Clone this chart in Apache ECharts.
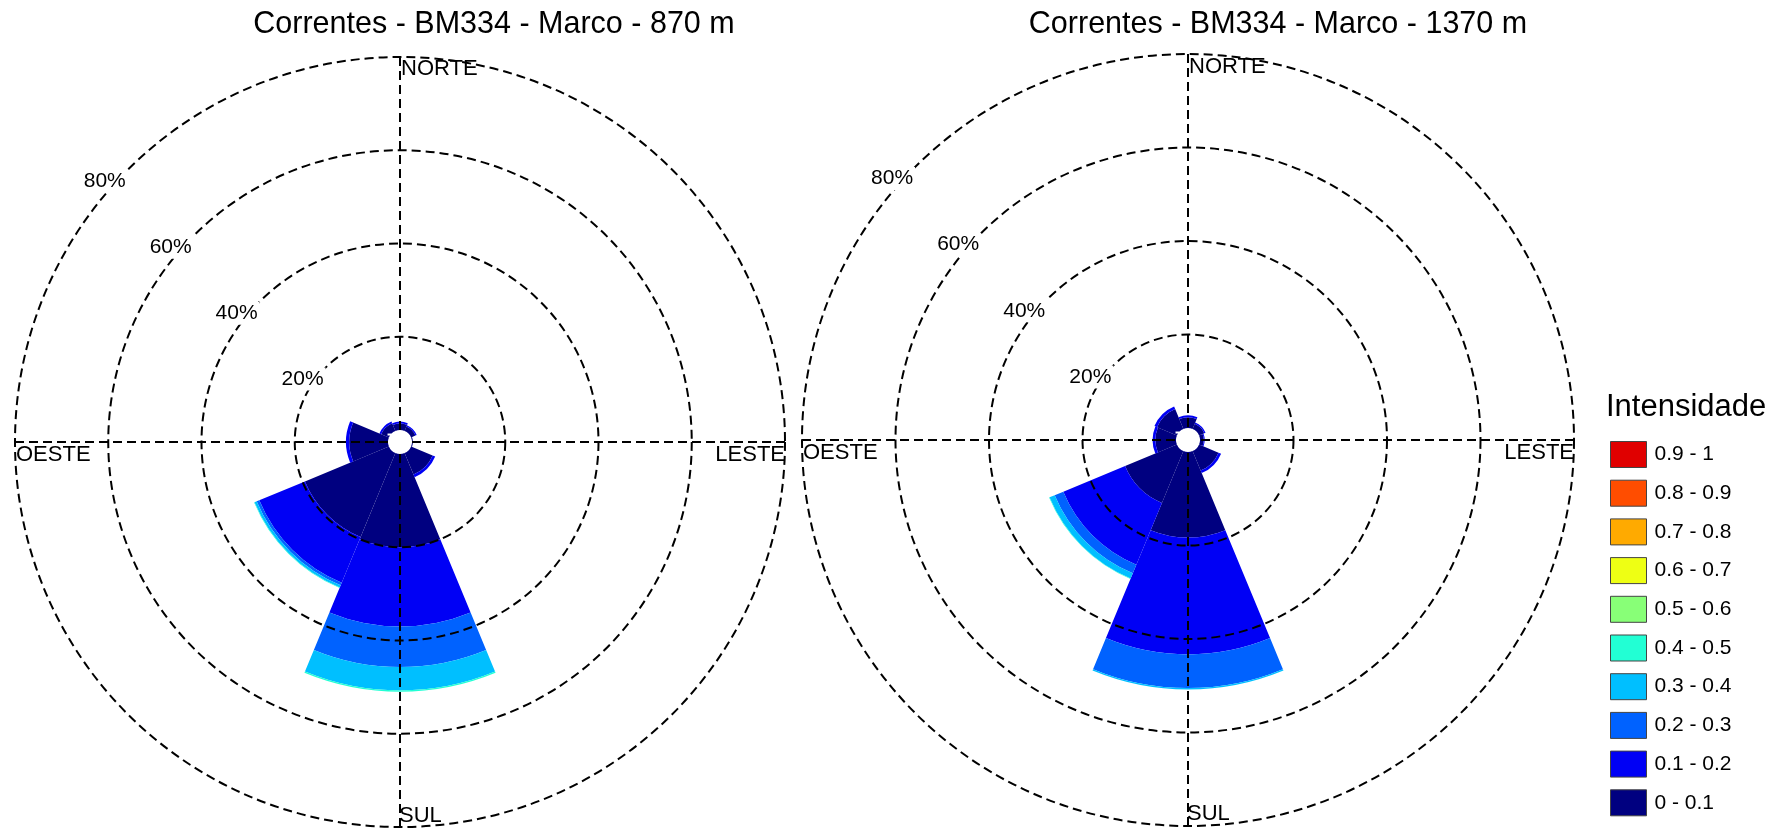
<!DOCTYPE html>
<html><head><meta charset="utf-8">
<script src="https://cdn.jsdelivr.net/npm/echarts@6/dist/echarts.min.js"></script>
<style>html,body{margin:0;padding:0;background:#fff}#c{width:1780px;height:830px}</style>
</head><body><div id="c"></div>
<script>
// ---------- data ----------
const directions = ['N', 'NE', 'E', 'SE', 'S', 'SW', 'W', 'NW'];
const classes = ['0 - 0.1', '0.1 - 0.2', '0.2 - 0.3', '0.3 - 0.4', '0.4 - 0.5',
                 '0.5 - 0.6', '0.6 - 0.7', '0.7 - 0.8', '0.8 - 0.9', '0.9 - 1'];
const radialTicks = [0, 20, 40, 60, 80];
const titles = ['Correntes - BM334 - Marco - 870 m', 'Correntes - BM334 - Marco - 1370 m'];
const compassLabels = ['NORTE', 'LESTE', 'SUL', 'OESTE'];
const legendTitle = 'Intensidade';

// 870 m : frequency (%) per direction, per intensity class
const d870_00_01 = [1.4, 1.0, 0.2, 5.0, 20.0, 19.5, 8.3, 1.8];
const d870_01_02 = [0.4, 0.3, 0.0, 0.6, 17.0, 10.6, 0.7, 0.4];
const d870_02_03 = [0, 0, 0, 0, 8.7, 0.6, 0, 0];
const d870_03_04 = [0, 0, 0, 0, 5.0, 0.5, 0, 0];
const d870_04_05 = [0, 0, 0, 0, 0.3, 0.1, 0, 0];
const d870_05_06 = [0, 0, 0, 0, 0, 0, 0, 0];
const d870_06_07 = [0, 0, 0, 0, 0, 0, 0, 0];
const d870_07_08 = [0, 0, 0, 0, 0, 0, 0, 0];
const d870_08_09 = [0, 0, 0, 0, 0, 0, 0, 0];
const d870_09_10 = [0, 0, 0, 0, 0, 0, 0, 0];

// 1370 m
const d1370_00_01 = [2.3, 1.2, 0.8, 4.5, 18.3, 12.0, 4.4, 4.6];
const d1370_01_02 = [0.4, 0.3, 0.2, 0.6, 25.0, 14.3, 0.6, 0.6];
const d1370_02_03 = [0, 0, 0, 0, 7.2, 2.0, 0, 0];
const d1370_03_04 = [0, 0, 0, 0, 0.3, 1.2, 0, 0];
const d1370_04_05 = [0, 0, 0, 0, 0, 0.1, 0, 0];
const d1370_05_06 = [0, 0, 0, 0, 0, 0, 0, 0];
const d1370_06_07 = [0, 0, 0, 0, 0, 0, 0, 0];
const d1370_07_08 = [0, 0, 0, 0, 0, 0, 0, 0];
const d1370_08_09 = [0, 0, 0, 0, 0, 0, 0, 0];
const d1370_09_10 = [0, 0, 0, 0, 0, 0, 0, 0];

// ---------- styles / layout ----------
const classColors = ['#000080', '#0000F5', '#0062FF', '#00BFFF', '#22FFD4',
                     '#88FF77', '#EEFF14', '#FFAA00', '#FF4D00', '#E00000'];
const FONT = "'Liberation Sans', Arial, sans-serif";
const charts = [
  { cx: 400, cy: 442, r0: 12, R: 385, titleX: 489,
    data: [d870_00_01, d870_01_02, d870_02_03, d870_03_04, d870_04_05,
           d870_05_06, d870_06_07, d870_07_08, d870_08_09, d870_09_10] },
  { cx: 1188, cy: 440, r0: 12, R: 386, titleX: 1273,
    data: [d1370_00_01, d1370_01_02, d1370_02_03, d1370_03_04, d1370_04_05,
           d1370_05_06, d1370_06_07, d1370_07_08, d1370_08_09, d1370_09_10] }
];
const dash = [9, 5];

const polar = [], angleAxis = [], radiusAxis = [], series = [], graphic = [], title = [];

charts.forEach((c, k) => {
  const base = k * 3;
  for (let j = 0; j < 3; j++) polar.push({ center: [c.cx, c.cy], radius: [c.r0, c.R] });

  // bars polar
  angleAxis.push({ polarIndex: base, type: 'category', data: directions, startAngle: 112.5,
    clockwise: true, show: false, boundaryGap: true });
  radiusAxis.push({ polarIndex: base, type: 'value', min: radialTicks[0], max: radialTicks[radialTicks.length - 1], show: false });

  // grid polar (crosshair + rings)
  angleAxis.push({ polarIndex: base + 1, type: 'value', min: 0, max: 360, interval: 90, startAngle: 90,
    z: 5, axisLine: { show: false }, axisTick: { show: false }, axisLabel: { show: false },
    splitLine: { show: true, lineStyle: { color: '#000', width: 2, type: dash } } });
  radiusAxis.push({ polarIndex: base + 1, type: 'value', min: radialTicks[0], max: radialTicks[radialTicks.length - 1], interval: 20,
    z: 5, axisLine: { show: false }, axisTick: { show: false }, axisLabel: { show: false },
    splitLine: { show: true, lineStyle: { color: ['rgba(0,0,0,0)', '#000', '#000', '#000', '#000'], width: 2, type: dash } } });

  // label polar (percent labels along NW direction)
  angleAxis.push({ polarIndex: base + 2, type: 'value', min: 0, max: 360, startAngle: 135, show: false });
  radiusAxis.push({ polarIndex: base + 2, type: 'value', min: radialTicks[0], max: radialTicks[radialTicks.length - 1], interval: 20,
    z: 6, axisLine: { show: false }, axisTick: { show: false }, splitLine: { show: false },
    axisLabel: { show: true, margin: 0, fontSize: 21, color: '#000', fontFamily: FONT,
      align: 'right', verticalAlign: 'top',
      backgroundColor: '#fff', padding: [1, 2],
      formatter: v => (v === 0 ? '' : v + '%') } });

  classes.forEach((name, i) => {
    series.push({
      type: 'bar', name: name, coordinateSystem: 'polar', polarIndex: base,
      stack: 'rose' + k, data: c.data[i], barCategoryGap: '0%', barGap: '0%',
      itemStyle: { color: classColors[i], borderWidth: 0 }, emphasis: { disabled: true }, silent: true, z: 2
    });
  });

  title.push({ text: titles[k], left: c.titleX, top: 4, textAlign: 'center',
    textStyle: { fontSize: 30.5, fontWeight: 'normal', color: '#000', fontFamily: FONT } });

  const txt = (s, x, y, align) => ({ type: 'text', x: x, y: y, z: 20,
    style: { text: s, fill: '#000', font: '22px ' + FONT, align: align, textAlign: align,
             verticalAlign: 'middle', textVerticalAlign: 'middle' } });
  graphic.push(txt(compassLabels[0], c.cx + 1, c.cy - 373, 'left'));
  graphic.push(txt(compassLabels[1], c.cx + c.R, c.cy + 13, 'right'));
  graphic.push(txt(compassLabels[2], c.cx - 1, c.cy + 374, 'left'));
  graphic.push(txt(compassLabels[3], c.cx - c.R + 1, c.cy + 13, 'left'));
});

title.push({ text: legendTitle, left: 1606, top: 392, padding: 0,
  textStyle: { fontSize: 31, fontWeight: 'normal', color: '#000', fontFamily: FONT } });

const option = {
  backgroundColor: '#fff',
  animation: false,
  title: title,
  polar: polar,
  angleAxis: angleAxis,
  radiusAxis: radiusAxis,
  legend: {
    data: classes.slice().reverse(),
    orient: 'vertical', left: 1610, top: 441, height: 385, padding: 0,
    itemWidth: 36, itemHeight: 26, itemGap: 11.7,
    icon: 'rect', selectedMode: false,
    itemStyle: { borderColor: '#444', borderWidth: 1 },
    textStyle: { fontSize: 21, lineHeight: 24, color: '#000', fontFamily: FONT, padding: [0, 0, 0, 3] }
  },
  graphic: graphic,
  series: series
};

const chart = echarts.init(document.getElementById('c'), null, { renderer: 'canvas' });
chart.setOption(option);
</script>
</body></html>
